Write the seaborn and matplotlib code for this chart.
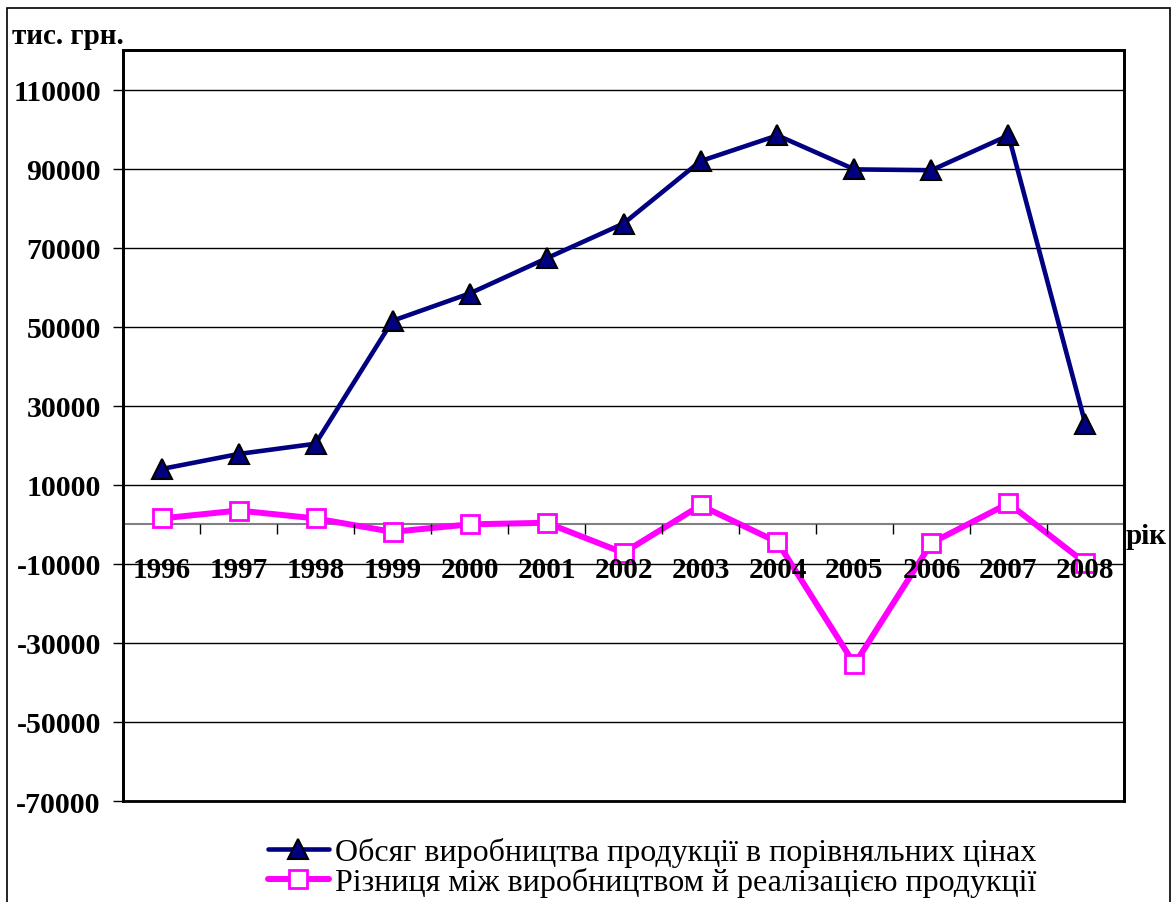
"""
Production volume vs. production/sales difference, 1996-2008.
"""

import matplotlib.pyplot as plt
import numpy as np
import pandas as pd
import seaborn as sns
from matplotlib.patches import Rectangle

# Data (thousand UAH)
years = ["1996", "1997", "1998", "1999", "2000", "2001", "2002",
         "2003", "2004", "2005", "2006", "2007", "2008"]
production = [14000, 17800, 20400, 51500, 58400, 67300, 76100,
              91900, 98400, 89800, 89600, 98400, 25300]
difference = [1500, 3500, 1500, -1900, 0, 400, -7200,
              4800, -4500, -35400, -4700, 5300, -9800]
y_ticks = list(range(-70000, 110001, 20000))

label_production = "Обсяг виробництва продукції в порівняльних цінах"
label_difference = "Різниця між виробництвом й реалізацією продукції"

sns.set_style("white")
plt.rcParams["font.family"] = ["Liberation Serif", "DejaVu Serif"]
plt.rcParams["text.color"] = "black"
plt.rcParams["xtick.color"] = "black"
plt.rcParams["ytick.color"] = "black"

df = pd.DataFrame({"pos": np.arange(len(years)),
                   "production": production,
                   "difference": difference})

fig = plt.figure(figsize=(11.73, 9.03), dpi=100)
ax = fig.add_axes([0.1049, 0.1118, 0.8533, 0.8317])

# Series
sns.lineplot(data=df, x="pos", y="production", ax=ax, color="#000080",
             linewidth=3.3, marker="^", markersize=15,
             markerfacecolor="#000080", markeredgecolor="black",
             markeredgewidth=1.5, label=label_production, zorder=4)
sns.lineplot(data=df, x="pos", y="difference", ax=ax, color="#FF00FF",
             linewidth=4.3, marker="s", markersize=13,
             markerfacecolor="white", markeredgecolor="#FF00FF",
             markeredgewidth=2, label=label_difference, zorder=4)

ax.set_xlim(-0.5, len(years) - 0.5)
ax.set_ylim(-70000, 120000)

# Y axis: ticks, gridlines
ax.set_yticks(y_ticks)
ax.set_yticklabels([str(v) for v in y_ticks], fontsize=21.5, fontweight="bold")
ax.yaxis.grid(True, color="black", linewidth=1)
ax.tick_params(axis="y", direction="out", length=7, width=1, left=True, pad=9)

# X axis sits on y = 0, ticks between categories
ax.spines["bottom"].set_position(("data", 0))
ax.spines["bottom"].set_color("#808080")
ax.spines["bottom"].set_linewidth(1.5)
ax.set_xticks(np.arange(len(years)))
ax.set_xticklabels(years, fontsize=21, fontweight="bold")
ax.set_xticks(np.arange(len(years) + 1) - 0.5, minor=True)
ax.tick_params(axis="x", which="major", length=0, pad=23)
ax.tick_params(axis="x", which="minor", direction="out", length=7,
               width=1, color="black", bottom=True)
ax.xaxis.set_zorder(6)  # year labels drawn over the lines
ax.set_xlabel("")
ax.set_ylabel("")

for side in ["left", "right", "top"]:
    ax.spines[side].set_color("black")
    ax.spines[side].set_linewidth(2)
ax.add_patch(Rectangle((0, 0), 1, 1, transform=ax.transAxes, fill=False,
                       edgecolor="black", linewidth=2, clip_on=False, zorder=5))

# Axis titles
fig.text(12 / 1173, 1 - 37 / 903, "тис. грн.", fontsize=21,
         fontweight="bold", va="center", ha="left")
fig.text(1126 / 1173, 1 - 537 / 903, "рік", fontsize=21,
         fontweight="bold", va="center", ha="left")

# Legend
handles, labels = ax.get_legend_handles_labels()
ax.get_legend().remove()
fig.legend(handles, labels, loc="center left",
           bbox_to_anchor=(268 / 1173, 1 - 868 / 903), frameon=False,
           fontsize=23, handlelength=1.9, handletextpad=0.2,
           labelspacing=0.0, borderaxespad=0, borderpad=0)

# Outer frame of the figure
fig.add_artist(Rectangle((7 / 1173, -0.05), 1163 / 1173, 1 - 9 / 903 + 0.05,
                         transform=fig.transFigure, fill=False,
                         edgecolor="black", linewidth=1.2))

fig.savefig("out.png", dpi=100)
plt.close(fig)
